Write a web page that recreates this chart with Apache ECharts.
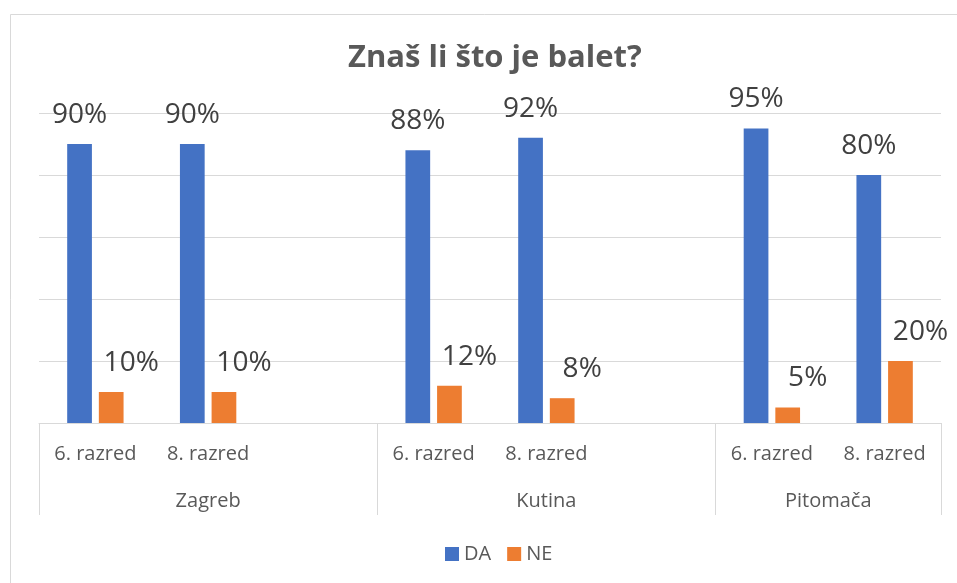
<!DOCTYPE html>
<html>
<head>
<meta charset="utf-8">
<script src="https://cdn.jsdelivr.net/npm/echarts@6/dist/echarts.min.js"></script>
<style>html,body{margin:0;padding:0;background:#fff}#c{width:957px;height:583px}</style>
</head>
<body>
<div id="c"></div>
<script>
const title = 'Znaš li što je balet?';
const groups = ['Zagreb', 'Kutina', 'Pitomača'];
const grades = ['6. razred', '8. razred'];
const seriesNames = ['DA', 'NE'];
const daValues = [90, 90, 88, 92, 95, 80];
const neValues = [10, 10, 12, 8, 5, 20];

// build categories with an empty slot between groups
const categories = [];
const daData = [];
const neData = [];
const boundaries = [0];
const groupCenters = [];
groups.forEach((g, gi) => {
  const start = categories.length;
  grades.forEach((gr, ri) => {
    categories.push(gr);
    daData.push(daValues[gi * grades.length + ri]);
    neData.push(neValues[gi * grades.length + ri]);
  });
  if (gi < groups.length - 1) {
    categories.push('');
    daData.push('-');
    neData.push('-');
  }
  const end = categories.length;
  groupCenters.push((start + end) / 2);
  boundaries.push(end);
});
const centerName = {};
groupCenters.forEach((c, i) => centerName[c] = groups[i]);

const font = 'Open Sans';
const chart = echarts.init(document.getElementById('c'));
chart.setOption({
  animation: false,
  backgroundColor: '#fff',
  textStyle: { fontFamily: font },
  title: {
    text: title,
    left: 343,
    top: 38,
    textStyle: { fontFamily: font, fontSize: 31, fontWeight: 'bold', color: '#595959' }
  },
  graphic: [{
    type: 'rect', shape: { x: 10.5, y: 14.5, width: 960, height: 600 },
    style: { fill: 'none', stroke: '#d9d9d9', lineWidth: 1 }, silent: true
  }],
  legend: {
    data: seriesNames,
    left: 440, top: 539,
    itemWidth: 14, itemHeight: 14, itemGap: 16,
    icon: 'rect',
    textStyle: { fontFamily: font, fontSize: 20, color: '#595959' }
  },
  grid: { left: 39, right: 16, top: 113, bottom: 160, containLabel: false, outerBoundsMode: 'none' },
  xAxis: [{
    type: 'category',
    data: categories,
    position: 'bottom',
    axisLine: { show: true, lineStyle: { color: '#d9d9d9', width: 1 } },
    axisTick: { show: false },
    axisLabel: { interval: 0, margin: 21, fontSize: 20, color: '#595959', fontFamily: font },
    splitLine: { show: false }
  }, {
    type: 'value',
    min: 0, max: categories.length,
    position: 'bottom',
    axisLine: { show: false },
    splitLine: { show: false },
    axisTick: { show: true, customValues: boundaries, length: 92, lineStyle: { color: '#d9d9d9', width: 1 } },
    axisLabel: {
      customValues: groupCenters, margin: 68, fontSize: 20, color: '#595959', fontFamily: font,
      formatter: v => centerName[v] || ''
    }
  }],
  yAxis: {
    type: 'value', min: 0, max: 100, interval: 20,
    axisLine: { show: false }, axisTick: { show: false }, axisLabel: { show: false },
    splitLine: { show: true, lineStyle: { color: '#d9d9d9', width: 1 } }
  },
  series: [{
    name: seriesNames[0], type: 'bar', data: daData,
    itemStyle: { color: '#4472c4' },
    barGap: '28%', barCategoryGap: '50%',
    label: { show: true, position: 'top', distance: 15, fontSize: 28, color: '#404040', fontFamily: font, formatter: p => p.value + '%' }
  }, {
    name: seriesNames[1], type: 'bar', data: neData,
    itemStyle: { color: '#ed7d31' },
    barGap: '28%', barCategoryGap: '50%',
    label: { show: true, position: 'top', distance: 15, offset: [20, 0], fontSize: 28, color: '#404040', fontFamily: font, formatter: p => p.value + '%' }
  }]
});
</script>
</body>
</html>
